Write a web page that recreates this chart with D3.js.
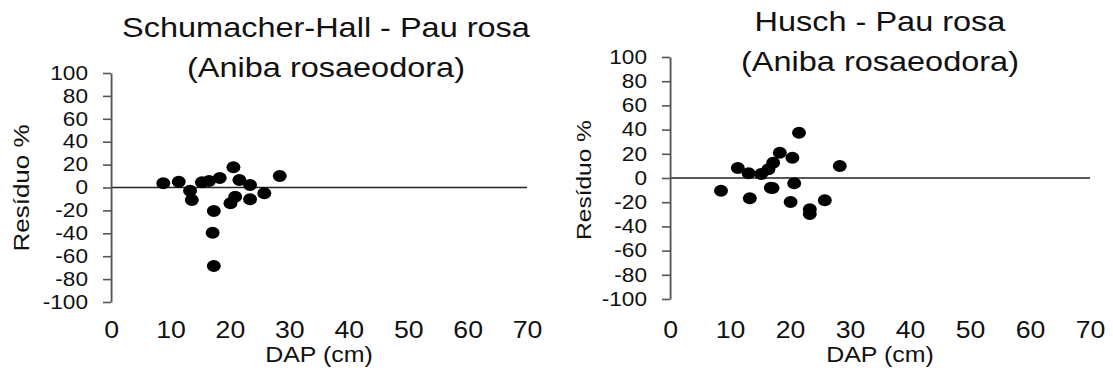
<!DOCTYPE html>
<html>
<head>
<meta charset="utf-8">
<script src="https://cdn.jsdelivr.net/npm/d3@7"></script>
<style>
  body { margin: 0; background: #fff; }
  svg { display: block; font-family: "Liberation Sans", Arial, Helvetica, sans-serif; }
</style>
</head>
<body>
<svg id="chart"></svg>
<script>
// tick values
const xTickValues = [0, 10, 20, 30, 40, 50, 60, 70];
const yTickValues = [-100, -80, -60, -40, -20, 0, 20, 40, 60, 80, 100];

// Schumacher-Hall residuals
const shDap = [8.8, 11.4, 13.3, 13.6, 15.3, 16.5, 18.3, 20.6, 21.6, 23.4, 25.8, 28.4, 23.4, 20.9, 20.1, 17.3, 17.1, 17.3];
const shResiduo = [3.7, 5.1, -2.8, -10.9, 4.5, 5.7, 8.3, 17.6, 6.6, 2.2, -5.1, 10, -10.3, -8, -13.8, -20.5, -39.5, -68.6];

// Husch residuals
const huDap = [8.5, 11.3, 13.1, 13.3, 15.2, 16.4, 17.2, 17.1, 16.8, 18.3, 20.4, 21.5, 20.7, 20.1, 23.3, 23.3, 25.8, 28.3];
const huResiduo = [-10.5, 8.3, 3.9, -16.8, 3.3, 7.2, 12.7, -8.3, -8.0, 20.9, 16.8, 37.4, -4.4, -19.8, -25.9, -29.8, -18.4, 9.9];

const titles = [
    ['Schumacher-Hall - Pau rosa', '(Aniba rosaeodora)'],
    ['Husch - Pau rosa', '(Aniba rosaeodora)']
];
const xLabel = 'DAP (cm)';
const yLabel = 'Resíduo %';

// the original picture is stretched sideways, so draw in a narrower box and stretch it
const SX = 1.16;
const width = 1113, height = 372;
const W = width / SX;

const svg = d3.select('#chart')
        .attr('width', width)
        .attr('height', height)
        .attr('viewBox', `0 0 ${W} ${height}`)
        .attr('preserveAspectRatio', 'none');

// panel positions in screen px (x gets divided by SX)
const panels = [
    { dap: shDap, res: shResiduo, title: titles[0],
      x0: 111, x1: 527, yTop: 73, yBot: 302, titleX: 326, titleY: 37,
      labX: 21, labY: 188, labSize: 26 },
    { dap: huDap, res: huResiduo, title: titles[1],
      x0: 670, x1: 1090, yTop: 57, yBot: 299, titleX: 880, titleY: 31,
      labX: 584, labY: 180, labSize: 24.5 }
];

panels.forEach(p => {
    const xScale = d3.scaleLinear()
            .domain([0, 70])
            .range([p.x0 / SX, p.x1 / SX]);
    const yScale = d3.scaleLinear()
            .domain([-100, 100])
            .range([p.yBot, p.yTop]);

    const g = svg.append('g');

    // zero reference line
    g.append('line')
            .attr('x1', xScale(0))
            .attr('x2', xScale(70))
            .attr('y1', yScale(0))
            .attr('y2', yScale(0))
            .attr('stroke', '#222')
            .attr('stroke-width', 1.3);

    // y axis
    const yAxis = d3.axisLeft(yScale)
            .tickValues(yTickValues)
            .tickFormat(d => String(d))
            .tickSizeInner(8 / SX)
            .tickSizeOuter(0)
            .tickPadding(15 / SX);
    const yAxisG = g.append('g')
            .attr('transform', `translate(${xScale(0)}, 0)`)
            .call(yAxis);
    yAxisG.selectAll('path, line')
            .attr('stroke', '#555')
            .attr('stroke-width', 1.6);
    yAxisG.selectAll('text')
            .attr('font-size', 19.5)
            .attr('fill', '#111')
            .attr('font-family', null);

    // x axis: labels only
    const xAxis = d3.axisBottom(xScale)
            .tickValues(xTickValues)
            .tickFormat(d => String(d))
            .tickSize(0)
            .tickPadding(0);
    const xAxisG = g.append('g')
            .attr('transform', 'translate(0, 322)')
            .call(xAxis);
    xAxisG.select('.domain').remove();
    xAxisG.selectAll('text')
            .attr('font-size', 23)
            .attr('fill', '#111')
            .attr('font-family', null);

    // axis titles
    g.append('text')
            .attr('x', xScale(35))
            .attr('y', 362)
            .attr('text-anchor', 'middle')
            .attr('font-size', 21.5)
            .attr('fill', '#111')
            .text(xLabel);
    g.append('text')
            .attr('transform', `translate(${p.labX / SX}, ${p.labY}) scale(0.72, 1) rotate(-90)`)
            .attr('text-anchor', 'middle')
            .attr('dy', '0.35em')
            .attr('font-size', p.labSize)
            .attr('fill', '#111')
            .text(yLabel);

    // chart title, two lines
    p.title.forEach((line, i) => {
        g.append('text')
                .attr('x', p.titleX / SX)
                .attr('y', p.titleY + i * 40)
                .attr('text-anchor', 'middle')
                .attr('font-size', 28)
                .attr('fill', '#111')
                .text(line);
    });

    // points
    g.selectAll('circle')
            .data(d3.zip(p.dap, p.res))
            .enter()
            .append('circle')
            .attr('cx', d => xScale(d[0]))
            .attr('cy', d => yScale(d[1]))
            .attr('r', 6)
            .attr('fill', '#000');
});
</script>
</body>
</html>
